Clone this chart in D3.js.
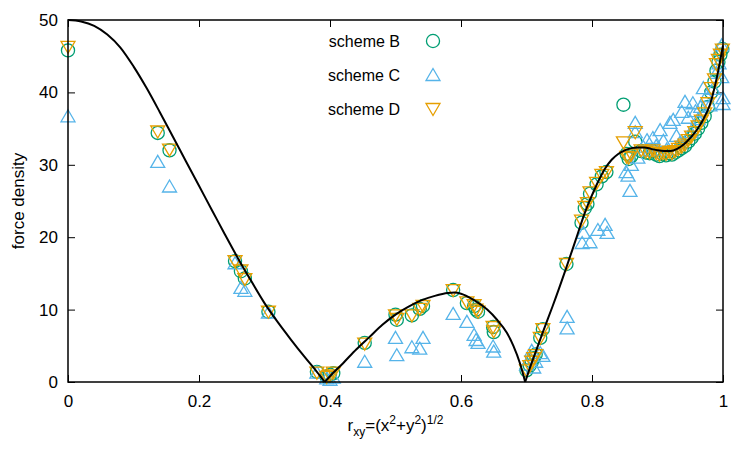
<!DOCTYPE html>
<html>
<head>
<meta charset="utf-8">
<script src="https://cdn.jsdelivr.net/npm/d3@7"></script>
<style>
  body { margin: 0; background: #fff; }
  text { font-family: "Liberation Sans", Arial, Helvetica, sans-serif; }
</style>
</head>
<body>
<div id="chart"></div>
<script>
// Tick values
const xTicks = [0, 0.2, 0.4, 0.6, 0.8, 1];
const yTicks = [0, 10, 20, 30, 40, 50];

// Reference curve, split at the two cusps
const curveR = [0, 0.02, 0.04, 0.06, 0.08, 0.10, 0.12, 0.14, 0.16, 0.18, 0.20, 0.22, 0.24, 0.26, 0.28, 0.30, 0.32, 0.34, 0.36, 0.38, 0.392,
  0.40, 0.42, 0.44, 0.46, 0.48, 0.50, 0.52, 0.54, 0.56, 0.58, 0.59, 0.60, 0.62, 0.64, 0.655, 0.67, 0.68, 0.69, 0.698,
  0.705, 0.715, 0.725, 0.74, 0.76, 0.775, 0.79, 0.80, 0.81, 0.82, 0.83, 0.84, 0.85, 0.86, 0.87, 0.88, 0.89, 0.90, 0.91, 0.92, 0.93, 0.94, 0.95, 0.96, 0.97, 0.98, 0.99, 1.0];
const curveF = [50.0, 49.8, 49.2, 48.0, 46.2, 43.6, 40.6, 37.3, 33.9, 30.5, 27.1, 23.7, 20.3, 17.0, 13.9, 10.9, 8.3, 5.9, 3.6, 1.4, 0.0,
  0.8, 2.6, 4.5, 6.2, 7.9, 9.3, 10.4, 11.3, 11.9, 12.3, 12.35, 12.2, 11.3, 10.0, 8.6, 6.8, 5.0, 2.6, 0.0,
  1.9, 4.4, 6.9, 10.5, 15.6, 19.6, 23.6, 25.8, 27.8, 29.5, 30.7, 31.5, 32.0, 32.3, 32.4, 32.4, 32.2, 32.0, 31.9, 31.9, 32.2, 32.8, 33.7, 34.8, 36.3, 38.3, 41.8, 46.5];
const cusps = [0.392, 0.698];

// scheme B
const rB = [0.000, 0.137, 0.155, 0.255, 0.264, 0.270, 0.306, 0.380, 0.395, 0.400, 0.405, 0.453,
  0.500, 0.502, 0.525, 0.537, 0.542, 0.588, 0.609, 0.620, 0.623, 0.626, 0.649, 0.650,
  0.700, 0.705, 0.708, 0.711, 0.714, 0.721, 0.725, 0.761, 0.784, 0.789, 0.793, 0.797, 0.807, 0.815, 0.822,
  0.848, 0.853, 0.856, 0.860, 0.866, 0.875, 0.882, 0.888, 0.893, 0.898, 0.903, 0.908, 0.913, 0.918, 0.922, 0.927,
  0.932, 0.937, 0.942, 0.947, 0.952, 0.957, 0.962, 0.967, 0.972, 0.977, 0.982, 0.987, 0.990, 0.993, 0.996, 0.999];
const fB = [45.8, 34.4, 32.0, 16.7, 15.3, 14.3, 9.7, 1.4, 0.7, 1.0, 1.2, 5.4,
  9.3, 8.6, 9.2, 10.1, 10.5, 12.7, 10.9, 10.5, 10.0, 9.7, 7.6, 6.9,
  1.6, 2.3, 2.8, 3.3, 3.8, 6.1, 7.3, 16.3, 22.0, 24.0, 24.6, 26.0, 27.3, 28.4, 29.0,
  38.3, 31.5, 30.8, 31.2, 33.2, 31.9, 31.7, 31.6, 31.9, 31.4, 31.2, 31.5, 31.3, 31.6, 31.4, 31.7,
  32.0, 32.3, 32.6, 33.2, 33.7, 34.3, 35.0, 35.8, 36.7, 38.0, 40.0, 41.5, 43.0, 44.2, 45.2, 46.0];

// scheme C
const rC = [0.000, 0.137, 0.155, 0.255, 0.264, 0.270, 0.306, 0.380, 0.395, 0.400, 0.405, 0.453,
  0.500, 0.502, 0.525, 0.537, 0.542, 0.588, 0.609, 0.620, 0.623, 0.626, 0.649, 0.650,
  0.700, 0.705, 0.708, 0.711, 0.714, 0.721, 0.725, 0.762, 0.762, 0.787, 0.785, 0.797, 0.809, 0.820, 0.823,
  0.852, 0.855, 0.858, 0.860, 0.866, 0.866, 0.870, 0.878, 0.884, 0.889, 0.893, 0.898, 0.904, 0.909, 0.914,
  0.919, 0.924, 0.929, 0.934, 0.937, 0.942, 0.947, 0.951, 0.954, 0.958, 0.962, 0.966, 0.970, 0.975, 0.980,
  0.985, 0.990, 0.994, 0.998, 0.998, 1.000, 1.000];
const fC = [36.7, 30.4, 27.0, 16.4, 13.0, 12.6, 9.6, 1.3, 0.5, 0.3, 0.6, 2.8,
  6.1, 3.7, 4.8, 4.6, 6.1, 9.4, 8.3, 6.5, 5.8, 5.4, 4.9, 4.2,
  2.4, 3.2, 4.3, 2.0, 2.8, 4.0, 3.6, 9.0, 7.4, 20.6, 19.2, 19.3, 21.0, 21.7, 20.6,
  29.0, 28.5, 26.4, 30.0, 35.8, 34.5, 31.0, 32.5, 33.4, 32.0, 33.7, 32.6, 34.8, 33.3, 32.1,
  35.8, 36.2, 34.0, 33.0, 37.3, 38.7, 36.5, 34.5, 38.5, 37.4, 36.3, 38.0, 40.6, 39.5, 38.2,
  40.5, 42.7, 44.0, 46.5, 42.1, 39.2, 38.4];

// scheme D
const rD = [0.000, 0.137, 0.155, 0.255, 0.264, 0.270, 0.306, 0.380, 0.395, 0.400, 0.405, 0.453,
  0.500, 0.502, 0.525, 0.537, 0.542, 0.588, 0.609, 0.620, 0.623, 0.626, 0.649, 0.650,
  0.700, 0.705, 0.708, 0.711, 0.714, 0.721, 0.725, 0.761, 0.784, 0.789, 0.793, 0.797, 0.807, 0.815, 0.822,
  0.848, 0.853, 0.856, 0.860, 0.866, 0.875, 0.882, 0.888, 0.893, 0.898, 0.903, 0.908, 0.913, 0.918, 0.922, 0.927,
  0.932, 0.937, 0.942, 0.947, 0.952, 0.957, 0.962, 0.967, 0.972, 0.977, 0.982, 0.987, 0.990, 0.993, 0.996, 0.999];
const fD = [46.3, 34.6, 32.1, 16.7, 15.4, 14.2, 9.7, 1.3, 0.7, 0.9, 1.3, 5.3,
  9.2, 8.7, 9.2, 10.1, 10.5, 12.7, 11.0, 10.6, 10.0, 9.7, 7.6, 7.0,
  1.6, 2.2, 2.8, 3.3, 3.7, 6.1, 7.3, 16.3, 22.3, 24.2, 24.7, 26.2, 27.5, 28.6, 29.0,
  33.1, 31.1, 31.0, 31.4, 34.5, 32.0, 31.8, 31.7, 32.0, 31.6, 31.4, 31.6, 31.5, 31.8, 31.6, 31.9,
  32.2, 32.5, 32.8, 33.4, 33.9, 34.5, 35.3, 36.1, 37.1, 38.5, 40.6, 41.8, 43.9, 44.5, 45.2, 45.9];

const schemes = [
  { name: 'scheme B', r: rB, f: fB, color: '#009e73', symbol: 'circle' },
  { name: 'scheme C', r: rC, f: fC, color: '#56b4e9', symbol: 'up' },
  { name: 'scheme D', r: rD, f: fD, color: '#e69f00', symbol: 'down' }
];

// Layout
const W = 750, H = 450;
const margin = { top: 20, right: 27, bottom: 68, left: 68 };
const width = W - margin.left - margin.right;
const height = H - margin.top - margin.bottom;

const svg = d3.select('#chart')
  .append('svg')
  .attr('width', W)
  .attr('height', H);

const g = svg.append('g')
  .attr('transform', `translate(${margin.left}, ${margin.top})`);

const xScale = d3.scaleLinear().domain([0, 1]).range([0, width]);
const yScale = d3.scaleLinear().domain([0, 50]).range([height, 0]);

// Axes with inward ticks (mirrored on top and right)
const tickLen = 7;
const styleAxis = sel => {
  sel.select('.domain').remove();
  sel.selectAll('line').attr('stroke', '#000').attr('stroke-width', 1);
  sel.selectAll('text').attr('fill', '#000').style('font-size', '17px');
};

g.append('g')
  .attr('transform', `translate(0, ${height})`)
  .call(d3.axisBottom(xScale).tickValues(xTicks).tickFormat(d => String(d))
    .tickSizeInner(-tickLen).tickSizeOuter(0).tickPadding(13))
  .call(styleAxis);

g.append('g')
  .call(d3.axisTop(xScale).tickValues(xTicks).tickFormat('')
    .tickSizeInner(-tickLen).tickSizeOuter(0))
  .call(styleAxis);

g.append('g')
  .call(d3.axisLeft(yScale).tickValues(yTicks).tickFormat(d => String(d))
    .tickSizeInner(-tickLen).tickSizeOuter(0).tickPadding(10))
  .call(styleAxis);

g.append('g')
  .attr('transform', `translate(${width}, 0)`)
  .call(d3.axisRight(yScale).tickValues(yTicks).tickFormat('')
    .tickSizeInner(-tickLen).tickSizeOuter(0))
  .call(styleAxis);

// Symbols
const symbolPath = (type) => {
  if (type === 'circle') return d3.symbol().type(d3.symbolCircle).size(135)();
  return 'M0,-6.5L7,5.5L-7,5.5Z';
};

const plot = g.append('g');

schemes.forEach(s => {
  const pts = s.r.map((r, i) => ({ r, f: s.f[i] }));
  plot.append('g').selectAll('path')
    .data(pts)
    .enter()
    .append('path')
    .attr('d', symbolPath(s.symbol))
    .attr('transform', d => `translate(${xScale(d.r)}, ${yScale(d.f)})` + (s.symbol === 'down' ? ' rotate(180)' : ''))
    .attr('fill', 'none')
    .attr('stroke', s.color)
    .attr('stroke-width', 1.3);
});

// Curve, drawn piecewise between the cusps
const curvePts = curveR.map((r, i) => ({ r, f: curveF[i] }));
const bounds = [0, ...cusps, 1];
const line = d3.line()
  .x(d => xScale(d.r))
  .y(d => yScale(d.f))
  .curve(d3.curveMonotoneX);

for (let k = 0; k < bounds.length - 1; k++) {
  const seg = curvePts.filter(d => d.r >= bounds[k] && d.r <= bounds[k + 1]);
  g.append('path')
    .attr('d', line(seg))
    .attr('fill', 'none')
    .attr('stroke', '#000')
    .attr('stroke-width', 2);
}

// Border
g.append('rect')
  .attr('width', width)
  .attr('height', height)
  .attr('fill', 'none')
  .attr('stroke', '#000')
  .attr('stroke-width', 1.5);

// Legend
const legend = g.append('g');
schemes.forEach((s, i) => {
  const ly = 21 + i * 34;
  legend.append('text')
    .attr('x', 332)
    .attr('y', ly + 6)
    .attr('text-anchor', 'end')
    .style('font-size', '16px')
    .text(s.name);
  legend.append('path')
    .attr('d', symbolPath(s.symbol))
    .attr('transform', `translate(365, ${ly})` + (s.symbol === 'down' ? ' rotate(180)' : ''))
    .attr('fill', 'none')
    .attr('stroke', s.color)
    .attr('stroke-width', 1.3);
});

// Axis titles
svg.append('text')
  .attr('transform', `translate(24, ${margin.top + height / 2}) rotate(-90)`)
  .attr('text-anchor', 'middle')
  .style('font-size', '17px')
  .text('force density');

const xLabel = svg.append('text')
  .attr('x', margin.left + width / 2)
  .attr('y', 431)
  .attr('text-anchor', 'middle')
  .style('font-size', '17px');
xLabel.append('tspan').text('r');
xLabel.append('tspan').attr('dy', 5).style('font-size', '12px').text('xy');
xLabel.append('tspan').attr('dy', -5).text('=(x');
xLabel.append('tspan').attr('dy', -7).style('font-size', '12px').text('2');
xLabel.append('tspan').attr('dy', 7).text('+y');
xLabel.append('tspan').attr('dy', -7).style('font-size', '12px').text('2');
xLabel.append('tspan').attr('dy', 7).text(')');
xLabel.append('tspan').attr('dy', -7).style('font-size', '12px').text('1/2');
</script>
</body>
</html>
